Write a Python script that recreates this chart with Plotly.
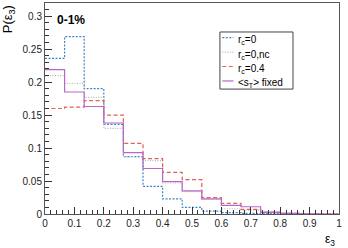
import plotly.graph_objects as go

edges = [i / 15 for i in range(16)]
rc0 = [0.236, 0.269, 0.190, 0.136, 0.087, 0.042, 0.023, 0.010, 0.0045, 0.002, 0.001, 0.0005, 0.0002, 0.0, 0.0]
rc0_nc = [0.210, 0.198, 0.177, 0.130, 0.087, 0.081, 0.047, 0.034, 0.022, 0.008, 0.006, 0.002, 0.001, 0.0003, 0.0]
rc04 = [0.160, 0.162, 0.172, 0.150, 0.107, 0.084, 0.063, 0.052, 0.025, 0.016, 0.007, 0.003, 0.001, 0.0003, 0.0]
st_fixed = [0.219, 0.185, 0.163, 0.138, 0.093, 0.069, 0.049, 0.035, 0.023, 0.013, 0.011, 0.0025, 0.001, 0.0003, 0.0]

xticks = [0, 0.1, 0.2, 0.3, 0.4, 0.5, 0.6, 0.7, 0.8, 0.9, 1]
xticklabels = ["0", "0.1", "0.2", "0.3", "0.4", "0.5", "0.6", "0.7", "0.8", "0.9", "1"]
yticks = [0, 0.05, 0.1, 0.15, 0.2, 0.25, 0.3]
yticklabels = ["0", "0.05", "0.1", "0.15", "0.2", "0.25", "0.3"]

names = ["r<sub>c</sub>=0", "r<sub>c</sub>=0,nc", "r<sub>c</sub>=0.4", "&lt;s<sub>T</sub>&gt; fixed"]
series = [rc0, rc0_nc, rc04, st_fixed]
colors = ["#3d85c6", "#b8b8b8", "#e0605a", "#b868c8"]
dashes = ["2px,1.5px", "1px,1.5px", "4px,2.5px", "solid"]

FONT = "Liberation Sans, Arial"

fig = go.Figure()
for name, vals, c, d in zip(names, series, colors, dashes):
    fig.add_trace(go.Scatter(
        x=edges, y=vals + [vals[-1]], mode="lines", line_shape="hv",
        name=name, showlegend=False, line=dict(color=c, width=1.2, dash=d)))

axis_common = dict(showline=True, linecolor="#555555", linewidth=1, mirror=True,
                   ticks="inside", tickcolor="#333333", ticklen=7, showgrid=False,
                   zeroline=False, automargin=False,
                   tickfont=dict(family=FONT, size=10, color="#222"))
fig.update_xaxes(range=[0, 1], tickvals=xticks, ticktext=xticklabels,
                 minor=dict(ticks="inside", tick0=0, dtick=0.02, ticklen=4, tickcolor="#333333"),
                 **axis_common)
fig.update_yaxes(range=[0, 0.32], tickvals=yticks, ticktext=yticklabels,
                 minor=dict(ticks="inside", tick0=0, dtick=0.01, ticklen=4, tickcolor="#333333"),
                 **axis_common)

# manual legend box (paper coordinates)
fig.add_shape(type="rect", xref="paper", yref="paper", x0=0.595, x1=0.8435, y0=0.592, y1=0.8626,
              line=dict(color="#444444", width=1), fillcolor="white", layer="above")
leg_y0 = 0.836
leg_step = 0.0685
for i, (name, c, d) in enumerate(zip(names, colors, dashes)):
    yy = leg_y0 - i * leg_step
    fig.add_shape(type="line", xref="paper", yref="paper", x0=0.603, x1=0.641, y0=yy, y1=yy,
                  line=dict(color=c, width=1.2, dash=d), layer="above")
    fig.add_annotation(text=name, xref="paper", yref="paper", x=0.648, y=yy - 0.012,
                       xanchor="left", yanchor="middle", showarrow=False,
                       font=dict(family=FONT, size=10, color="black"))

fig.add_annotation(text="<b>0-1%</b>", xref="paper", yref="paper", x=0.035, y=0.92,
                   xanchor="left", yanchor="middle", showarrow=False,
                   font=dict(family=FONT, size=12, color="black"))
fig.add_annotation(text="P(ε<sub>3</sub>)", xref="paper", yref="paper", x=-0.125, y=1.0,
                   xanchor="center", yanchor="top", textangle=-90, showarrow=False,
                   font=dict(family=FONT, size=13, color="black"))
fig.add_annotation(text="ε<sub>3</sub>", xref="paper", yref="paper", x=0.97, y=-0.075,
                   xanchor="center", yanchor="top", showarrow=False,
                   font=dict(family=FONT, size=12, color="black"))

fig.update_layout(
    width=348, height=248,
    margin=dict(l=45, r=9, t=3, b=34, autoexpand=False),
    paper_bgcolor="white", plot_bgcolor="white",
    showlegend=False,
)
fig.write_html("out.html", config={"displayModeBar": False},
               post_script="document.body.style.margin='0';document.body.style.overflow='hidden';")
